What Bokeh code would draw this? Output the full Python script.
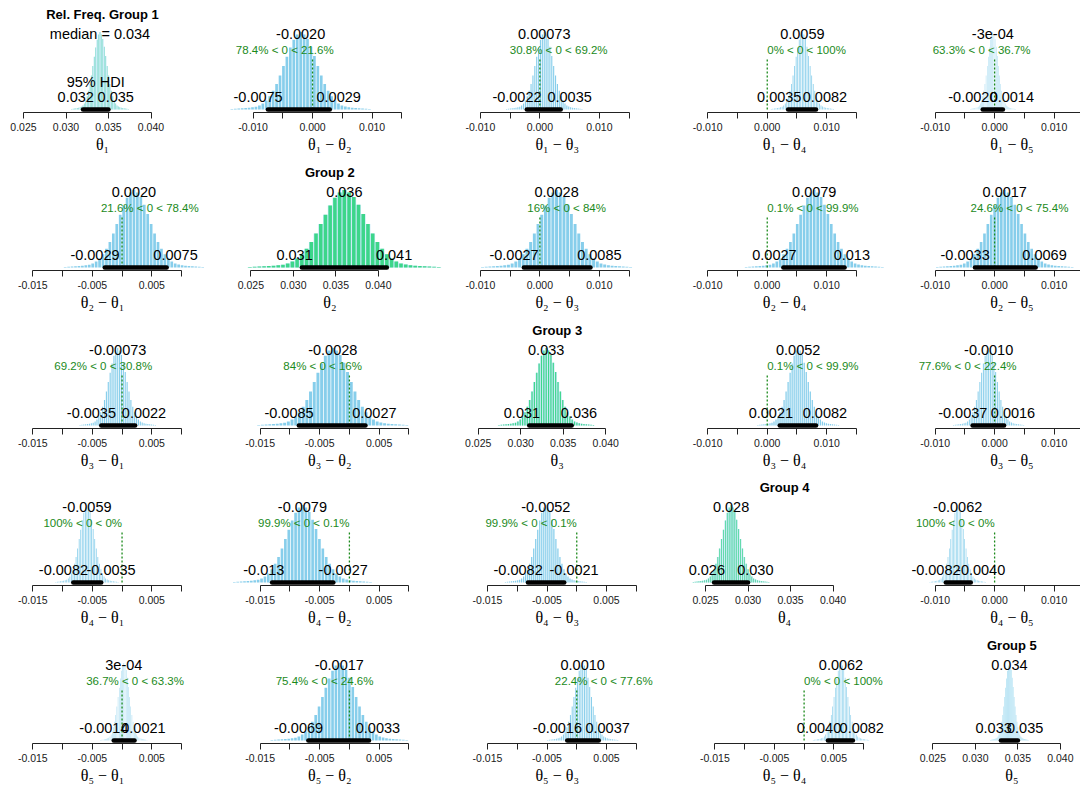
import numpy as np
from bokeh.plotting import figure
from bokeh.layouts import gridplot
from bokeh.models import FixedTicker, Range1d, NumeralTickFormatter
from bokeh.core.properties import value
from bokeh.embed import file_html
from bokeh.resources import INLINE

# ---------------- data ----------------
group_titles = ["Rel. Freq. Group 1", "Group 2", "Group 3", "Group 4", "Group 5"]
subs = ["\u2081", "\u2082", "\u2083", "\u2084", "\u2085"]

# central tendency (median) labels, row i = first theta, col j = second theta
center_lbl = [
    ["0.034", "-0.0020", "0.00073", "0.0059", "-3e-04"],
    ["0.0020", "0.036", "0.0028", "0.0079", "0.0017"],
    ["-0.00073", "-0.0028", "0.033", "0.0052", "-0.0010"],
    ["-0.0059", "-0.0079", "-0.0052", "0.028", "-0.0062"],
    ["3e-04", "-0.0017", "0.0010", "0.0062", "0.034"],
]
hdi_lo = [
    ["0.032", "-0.0075", "-0.0022", "0.0035", "-0.0020"],
    ["-0.0029", "0.031", "-0.0027", "0.0027", "-0.0033"],
    ["-0.0035", "-0.0085", "0.031", "0.0021", "-0.0037"],
    ["-0.0082", "-0.013", "-0.0082", "0.026", "-0.0082"],
    ["-0.0014", "-0.0069", "-0.0016", "0.0040", "0.033"],
]
hdi_hi = [
    ["0.035", "0.0029", "0.0035", "0.0082", "0.0014"],
    ["0.0075", "0.041", "0.0085", "0.013", "0.0069"],
    ["0.0022", "0.0027", "0.036", "0.0082", "0.0016"],
    ["-0.0035", "-0.0027", "-0.0021", "0.030", "-0.0040"],
    ["0.0021", "0.0033", "0.0037", "0.0082", "0.035"],
]
pct_lt = [
    ["", "78.4", "30.8", "0", "63.3"],
    ["21.6", "", "16", "0.1", "24.6"],
    ["69.2", "84", "", "0.1", "77.6"],
    ["100", "99.9", "99.9", "", "100"],
    ["36.7", "75.4", "22.4", "0", ""],
]
pct_gt = [
    ["", "21.6", "69.2", "100", "36.7"],
    ["78.4", "", "84", "99.9", "75.4"],
    ["30.8", "16", "", "99.9", "22.4"],
    ["0", "0.1", "0.1", "", "0"],
    ["63.3", "24.6", "77.6", "100", ""],
]
comp_val = 0.0

diag_major = [0.025, 0.030, 0.035, 0.040]
upper_major = [-0.010, 0.000, 0.010]
upper_minor = [-0.005, 0.005, 0.015]
lower_major = [-0.015, -0.005, 0.005]
lower_minor = [-0.010, 0.000, 0.010]

# relative bin heights of the posterior histograms (peak = 1); bin width = HDI width / 18
hist_shape = [0.005, 0.008, 0.011, 0.014, 0.018, 0.022, 0.027, 0.035, 0.05, 0.075,
              0.115, 0.17, 0.24, 0.33, 0.44, 0.56, 0.68, 0.80, 0.90, 0.97,
              1.00,
              0.97, 0.91, 0.81, 0.69, 0.56, 0.44, 0.33, 0.24, 0.17,
              0.115, 0.075, 0.05, 0.036, 0.028, 0.022, 0.018, 0.014, 0.011, 0.008, 0.005]

# ---------------- layout / style ----------------
col_L = [0, 216, 443, 670, 898]
col_R = [216, 443, 670, 898, 1080]
row_T = [0, 158, 316, 473, 631]
row_H = [158, 158, 157, 158, 157]
axis_y = [111.8 + 157.9 * r for r in range(5)]
centers = [102 + 227.35 * k for k in range(5)]
PEAK_PX = 77.3
BASE_PX = 3.1
TICK_AREA = 24
XLAB_BASE = 150.5   # baseline of x label, px below row top
BASELINE_FIX = 0.43  # em shift applied to alphabetic-baseline texts

FONT = "Liberation Sans"
GREEN = "#1B8A1B"
OFF_FILL = "#87CEEB"
DIAG_FILL, DIAG_GAP = "#3DD68A", "#BDE6F5"
OFF_GAP_PX = 0.75
DIAG_GAP_PX = 1.2

ARIAL_W = {"0": .556, "1": .556, "2": .556, "3": .556, "4": .556, "5": .556, "6": .556,
           "7": .556, "8": .556, "9": .556, ".": .278, "-": .333, "e": .556, "%": .889,
           "<": .584, " ": .278, "=": .584}


def text_w(s, size):
    return sum(ARIAL_W.get(ch, .556) for ch in s) * size


def fix(size):
    return BASELINE_FIX * size / PEAK_PX


grid = []
for i in range(5):
    hist_row, lab_row = [], []
    frame_h = int(round(axis_y[i] - row_T[i]))
    hist_h = frame_h + TICK_AREA
    lab_h = row_H[i] - hist_h
    y0 = -BASE_PX / PEAK_PX
    y1 = (frame_h - BASE_PX) / PEAK_PX
    for j in range(5):
        if i == j:
            s_px, vc = 8500.0, 0.034294
            major, minor = diag_major, []
        elif j > i:
            s_px, vc = 5950.0, 0.002908
            major, minor = upper_major, upper_minor
        else:
            s_px, vc = 5950.0, -0.003286
            major, minor = lower_major, lower_minor
        wfig = col_R[j] - col_L[j]
        xr = Range1d(vc + (col_L[j] - centers[j]) / s_px, vc + (col_R[j] - centers[j]) / s_px)

        p = figure(width=wfig, height=hist_h, output_backend="svg",
                   toolbar_location=None, x_range=xr, y_range=Range1d(y0, y1),
                   y_axis_location=None, min_border=0, min_border_bottom=TICK_AREA)
        p.xgrid.visible = False
        p.ygrid.visible = False
        p.outline_line_color = None
        p.background_fill_color = "white"
        p.border_fill_color = "white"

        ax = p.xaxis[0]
        ax.ticker = FixedTicker(ticks=major, minor_ticks=minor)
        allt = major + minor
        ax.bounds = (min(allt), max(allt))
        ax.formatter = NumeralTickFormatter(format="0.000")
        ax.major_tick_out = 6
        ax.major_tick_in = 0
        ax.minor_tick_out = 6
        ax.minor_tick_in = 0
        ax.minor_tick_line_color = "#222222"
        ax.major_tick_line_color = "#222222"
        ax.axis_line_color = "#222222"
        ax.major_label_standoff = 4
        ax.major_label_text_font = FONT
        ax.major_label_text_font_size = "10.5px"
        ax.major_label_text_color = "#1a1a1a"

        med = float(center_lbl[i][j])
        lo = float(hdi_lo[i][j])
        hi = float(hdi_hi[i][j])
        bw = (hi - lo) / 18.0
        n = len(hist_shape)
        k = np.arange(n) - (n - 1) / 2.0
        left = med + (k - 0.5) * bw
        right = left + bw
        gap = DIAG_GAP_PX if i == j else OFF_GAP_PX
        inset = gap / 2.0 / s_px
        in_left = left + inset
        in_right = np.maximum(right - inset, in_left)
        if i == j:
            p.quad(left=left, right=right, bottom=0, top=hist_shape,
                   fill_color=DIAG_GAP, line_color=None)
            p.quad(left=in_left, right=in_right, bottom=0, top=hist_shape,
                   fill_color=DIAG_FILL, line_color=None)
        else:
            p.quad(left=in_left, right=in_right, bottom=0, top=hist_shape,
                   fill_color=OFF_FILL, line_color=None)

        if i != j:
            p.segment(x0=[comp_val], y0=[0], x1=[comp_val], y1=[0.672],
                      line_color=GREEN, line_width=1.3, line_dash="2 2")
            gtxt = f"{pct_lt[i][j]}% < 0 < {pct_gt[i][j]}%"
            frac = float(pct_lt[i][j]) / 100.0
            p.text(x=[comp_val], y=[0.70 + fix(11.5)], text=[gtxt], text_font=value(FONT),
                   text_font_size=value("11.5px"), text_color=GREEN,
                   text_align="left", text_baseline="alphabetic",
                   x_offset=[-frac * text_w(gtxt, 11.5)])

        # HDI bar
        p.segment(x0=[lo], y0=[0], x1=[hi], y1=[0], line_color="black",
                  line_width=4.5, line_cap="round")
        # HDI labels
        yh = 0.081 + fix(14.5)
        p.text(x=[lo, hi], y=[yh, yh], text=[hdi_lo[i][j], hdi_hi[i][j]],
               text_font=value(FONT), text_font_size=value("14.5px"), text_color="black",
               text_align="left", text_baseline="alphabetic",
               x_offset=[-0.7 * text_w(hdi_lo[i][j], 14.5), -0.3 * text_w(hdi_hi[i][j], 14.5)])
        # central tendency label
        ctext = ("median = " + center_lbl[i][j]) if (i == 0 and j == 0) else center_lbl[i][j]
        p.text(x=[med], y=[0.9 + fix(14.5)], text=[ctext], text_font=value(FONT),
               text_font_size=value("14.5px"), text_color="black",
               text_align="center", text_baseline="alphabetic")
        if i == 0 and j == 0:
            p.text(x=[(lo + hi) / 2], y=[0.275 + fix(14.5)], text=["95% HDI"],
                   text_font=value(FONT), text_font_size=value("14.5px"), text_color="black",
                   text_align="center", text_baseline="alphabetic")
        if i == j:
            p.text(x=[vc], y=[1.154 + fix(13)], text=[group_titles[i]], text_font=value(FONT),
                   text_font_size=value("13px"), text_font_style="bold", text_color="black",
                   text_align="center", text_baseline="alphabetic")
        hist_row.append(p)

        # x label strip (shares the x range so the label sits at the panel centre)
        q = figure(width=wfig, height=lab_h, output_backend="svg", toolbar_location=None,
                   x_range=xr, y_range=Range1d(0, lab_h), x_axis_location=None,
                   y_axis_location=None, min_border=0)
        q.xgrid.visible = False
        q.ygrid.visible = False
        q.outline_line_color = None
        q.background_fill_color = "white"
        q.border_fill_color = "white"
        xl = ("\u03b8" + subs[i]) if i == j else ("\u03b8" + subs[i] + " \u2212 \u03b8" + subs[j])
        q.text(x=[vc], y=[lab_h - (XLAB_BASE - hist_h) + BASELINE_FIX * 16], text=[xl],
               text_font=value("Liberation Serif"), text_font_size=value("16px"),
               text_color="black", text_align="center", text_baseline="alphabetic")
        lab_row.append(q)
    grid.append(hist_row)
    grid.append(lab_row)

layout = gridplot(grid, toolbar_location=None)
open("out.html", "w").write(file_html(layout, INLINE))
